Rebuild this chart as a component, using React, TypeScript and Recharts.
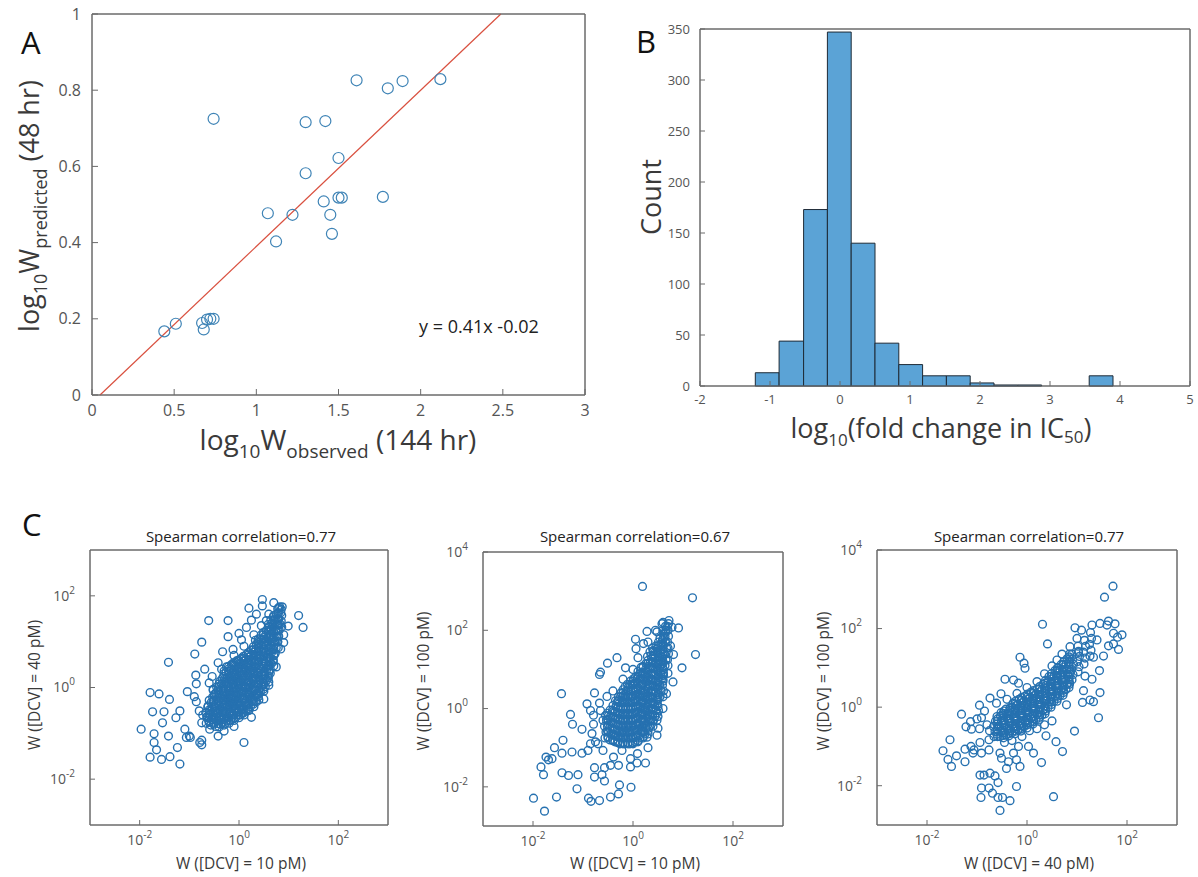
import React from 'react';
import { ScatterChart, Scatter, ComposedChart, XAxis, YAxis, ReferenceLine, ReferenceArea } from 'recharts';

// ---- panel A: observed vs predicted (log10 W) ----
const aObserved = [0.44, 0.51, 0.67, 0.68, 0.70, 0.72, 0.74, 0.74, 1.07, 1.12, 1.22, 1.30, 1.30, 1.42, 1.41, 1.45, 1.46, 1.50, 1.50, 1.52, 1.61, 1.77, 1.80, 1.89, 2.12];
const aPredicted = [0.167, 0.187, 0.189, 0.172, 0.198, 0.200, 0.200, 0.725, 0.477, 0.403, 0.473, 0.582, 0.716, 0.719, 0.508, 0.473, 0.423, 0.622, 0.518, 0.518, 0.826, 0.520, 0.805, 0.824, 0.829];
const fitSlope = 0.41;
const fitIntercept = -0.02;
const aXTicks = [0, 0.5, 1, 1.5, 2, 2.5, 3];
const aYTicks = [0, 0.2, 0.4, 0.6, 0.8, 1];

// ---- panel B: histogram of log10 fold change ----
const binEdges = [-1.21, -0.87, -0.52, -0.18, 0.16, 0.50, 0.84, 1.18, 1.52, 1.86, 2.20, 2.54, 2.88, 3.22, 3.56, 3.90];
const binCounts = [13, 44, 173, 347, 140, 42, 21, 10, 10, 3, 1, 1, 0, 0, 10];
const bXTicks = [-2, -1, 0, 1, 2, 3, 4, 5];
const bYTicks = [0, 50, 100, 150, 200, 250, 300, 350];

// ---- panel C: log10 W pairs ----
const c1Points: [number, number][] = [
  [-1.97, -0.91], [-1.79, -0.11], [-1.61, -0.14], [-1.40, -0.26], [-1.74, -0.53], [-1.51, -0.53], [-1.19, -0.51], [-1.27, -0.66],
  [-1.54, -0.77], [-1.71, -1.01], [-1.42, -1.06], [-1.71, -1.20], [-1.66, -1.36], [-1.79, -1.52], [-1.56, -1.57], [-1.39, -1.51],
  [-1.24, -1.31], [-1.19, -1.67], [-1.42, 0.55], [-1.09, -0.91], [-1.06, -1.09], [-0.98, -1.09], [-0.89, 0.73], [-0.75, 0.99],
  [-0.61, 1.46], [-0.22, 1.46], [-0.22, 1.11], [-1.04, -0.09], [-0.87, 0.27], [-0.86, 0.08], [-0.69, 0.40], [-0.54, 0.24],
  [-0.42, 0.54], [-0.86, -0.31], [-0.80, -0.51], [-0.75, -0.77], [-0.75, -1.15], [-0.75, -1.25], [-0.73, -0.60], [-0.65, -0.64],
  [-0.42, -1.06], [-0.59, -0.91], [-1.00, -1.06], [-0.79, -1.20], [0.10, -1.20], [0.63, 0.31], [0.20, 1.73], [0.47, 1.92],
  [0.47, 1.78], [0.70, 1.85], [0.87, 1.76], [1.20, 1.57], [1.29, 1.31], [0.99, 1.34], [0.90, 0.98], [0.84, 0.84],
  [0.00, 1.18], [0.15, 1.31], [0.35, 1.60], [0.55, 1.46], [0.25, 1.47], [0.05, 1.04], [-0.33, 0.78], [-0.12, 0.83],
  [-0.52, -0.04], [-0.19, -0.38], [0.08, -0.56], [0.18, -0.49], [0.35, -0.13], [0.35, -0.31],
  [-0.90, -0.20], [-0.30, -0.95], [-0.10, -0.85], [0.25, -0.65], [0.50, -0.25], [0.60, 0.05], [0.75, 0.45], [0.90, 1.15],
  [-0.60, 0.10], [-0.35, 0.40], [-0.10, 0.70], [0.10, 0.90], [0.30, 1.15], [0.45, 1.35], [0.60, 1.60],
];
const c1Core: [number, number][] = [
  [-0.66, -0.78], [-0.64, -0.66], [-0.67, -0.55], [-0.63, -0.43],
  [-0.57, -0.82], [-0.55, -0.70], [-0.58, -0.58], [-0.54, -0.46], [-0.56, -0.33], [-0.53, -0.21],
  [-0.47, -0.85], [-0.45, -0.73], [-0.48, -0.61], [-0.44, -0.49], [-0.46, -0.36], [-0.43, -0.24], [-0.47, -0.12], [-0.45, 0.01],
  [-0.37, -0.80], [-0.35, -0.68], [-0.38, -0.55], [-0.34, -0.43], [-0.36, -0.31], [-0.33, -0.18], [-0.37, -0.06], [-0.35, 0.07], [-0.34, 0.19],
  [-0.27, -0.78], [-0.25, -0.66], [-0.28, -0.53], [-0.24, -0.41], [-0.26, -0.28], [-0.23, -0.16], [-0.27, -0.03], [-0.25, 0.09], [-0.24, 0.22], [-0.26, 0.34], [-0.25, 0.45],
  [-0.17, -0.72], [-0.15, -0.60], [-0.18, -0.47], [-0.14, -0.35], [-0.16, -0.22], [-0.13, -0.10], [-0.17, 0.03], [-0.15, 0.15], [-0.14, 0.28], [-0.16, 0.40], [-0.15, 0.50],
  [-0.07, -0.66], [-0.05, -0.54], [-0.08, -0.41], [-0.04, -0.29], [-0.06, -0.16], [-0.03, -0.04], [-0.07, 0.09], [-0.05, 0.21], [-0.04, 0.34], [-0.06, 0.46], [-0.05, 0.58],
  [0.03, -0.60], [0.05, -0.48], [0.02, -0.35], [0.06, -0.23], [0.04, -0.10], [0.07, 0.02], [0.03, 0.15], [0.05, 0.27], [0.06, 0.40], [0.04, 0.52], [0.05, 0.64],
  [0.13, -0.50], [0.15, -0.38], [0.12, -0.25], [0.16, -0.13], [0.14, 0.00], [0.17, 0.12], [0.13, 0.25], [0.15, 0.37], [0.16, 0.49], [0.14, 0.61], [0.15, 0.72],
  [0.23, -0.42], [0.25, -0.30], [0.22, -0.17], [0.26, -0.05], [0.24, 0.08], [0.27, 0.20], [0.23, 0.33], [0.25, 0.45], [0.26, 0.58], [0.24, 0.70], [0.25, 0.82],
  [0.33, -0.30], [0.35, -0.17], [0.32, -0.05], [0.36, 0.08], [0.34, 0.20], [0.37, 0.33], [0.33, 0.45], [0.35, 0.58], [0.36, 0.70], [0.34, 0.83], [0.35, 0.95], [0.33, 1.03],
  [0.43, -0.10], [0.45, 0.03], [0.42, 0.15], [0.46, 0.28], [0.44, 0.40], [0.47, 0.53], [0.43, 0.65], [0.45, 0.78], [0.46, 0.90], [0.44, 1.03], [0.45, 1.15],
  [0.53, 0.02], [0.55, 0.15], [0.52, 0.27], [0.56, 0.40], [0.54, 0.52], [0.57, 0.65], [0.53, 0.77], [0.55, 0.90], [0.56, 1.02], [0.54, 1.15], [0.55, 1.25],
  [0.63, 0.40], [0.65, 0.52], [0.62, 0.65], [0.66, 0.77], [0.64, 0.90], [0.67, 1.02], [0.63, 1.15], [0.65, 1.27], [0.66, 1.40], [0.64, 1.47],
  [0.73, 0.75], [0.75, 0.87], [0.72, 1.00], [0.76, 1.12], [0.74, 1.25], [0.77, 1.37], [0.73, 1.50], [0.75, 1.60],
  [0.81, 1.25], [0.83, 1.38], [0.80, 1.50], [0.84, 1.63], [0.82, 1.76],
  [-0.60, -0.76], [-0.61, -0.64], [-0.59, -0.52], [-0.62, -0.40], [-0.60, -0.28],
  [-0.51, -0.80], [-0.50, -0.67], [-0.52, -0.55], [-0.49, -0.42], [-0.51, -0.30], [-0.50, -0.18], [-0.52, -0.06],
  [-0.41, -0.79], [-0.40, -0.67], [-0.42, -0.55], [-0.39, -0.42], [-0.41, -0.30], [-0.40, -0.17], [-0.42, -0.05], [-0.40, 0.08],
  [-0.31, -0.76], [-0.30, -0.64], [-0.32, -0.51], [-0.29, -0.39], [-0.31, -0.26], [-0.30, -0.14], [-0.32, -0.01], [-0.29, 0.11], [-0.31, 0.24], [-0.30, 0.36],
  [-0.21, -0.72], [-0.20, -0.59], [-0.22, -0.47], [-0.19, -0.34], [-0.21, -0.22], [-0.20, -0.09], [-0.22, 0.03], [-0.19, 0.16], [-0.21, 0.28], [-0.20, 0.41],
  [-0.11, -0.66], [-0.10, -0.53], [-0.12, -0.41], [-0.09, -0.28], [-0.11, -0.16], [-0.10, -0.03], [-0.12, 0.09], [-0.09, 0.22], [-0.11, 0.34], [-0.10, 0.47], [-0.11, 0.54],
  [-0.01, -0.60], [0.00, -0.48], [-0.02, -0.35], [0.01, -0.23], [-0.01, -0.10], [0.00, 0.02], [-0.02, 0.15], [0.01, 0.27], [-0.01, 0.40], [0.00, 0.52], [-0.01, 0.60],
  [0.09, -0.54], [0.10, -0.42], [0.08, -0.29], [0.11, -0.17], [0.09, -0.04], [0.10, 0.08], [0.08, 0.21], [0.11, 0.33], [0.09, 0.46], [0.10, 0.58], [0.09, 0.68],
  [0.19, -0.46], [0.20, -0.34], [0.18, -0.21], [0.21, -0.09], [0.19, 0.04], [0.20, 0.16], [0.18, 0.29], [0.21, 0.41], [0.19, 0.54], [0.20, 0.66], [0.19, 0.76],
  [0.29, -0.36], [0.30, -0.23], [0.28, -0.11], [0.31, 0.02], [0.29, 0.14], [0.30, 0.27], [0.28, 0.39], [0.31, 0.52], [0.29, 0.64], [0.30, 0.77], [0.29, 0.89],
  [0.39, -0.20], [0.40, -0.07], [0.38, 0.05], [0.41, 0.18], [0.39, 0.30], [0.40, 0.43], [0.38, 0.55], [0.41, 0.68], [0.39, 0.80], [0.40, 0.93], [0.39, 1.06],
  [0.49, -0.04], [0.50, 0.09], [0.48, 0.21], [0.51, 0.34], [0.49, 0.46], [0.50, 0.59], [0.48, 0.71], [0.51, 0.84], [0.49, 0.96], [0.50, 1.09], [0.49, 1.20],
  [0.59, 0.21], [0.60, 0.33], [0.58, 0.46], [0.61, 0.58], [0.59, 0.71], [0.60, 0.83], [0.58, 0.96], [0.61, 1.08], [0.59, 1.21], [0.60, 1.33],
  [0.69, 0.57], [0.70, 0.69], [0.68, 0.82], [0.71, 0.94], [0.69, 1.07], [0.70, 1.19], [0.68, 1.32], [0.71, 1.44], [0.69, 1.54],
  [0.78, 1.00], [0.79, 1.12], [0.77, 1.25], [0.80, 1.37], [0.78, 1.50], [0.79, 1.62], [0.78, 1.72],
  [-0.61, -0.72], [-0.59, -0.60], [-0.60, -0.49],
  [-0.50, -0.76], [-0.51, -0.64], [-0.49, -0.52], [-0.50, -0.40], [-0.51, -0.27], [-0.49, -0.15],
  [-0.40, -0.86], [-0.41, -0.73], [-0.39, -0.61], [-0.40, -0.48], [-0.41, -0.36], [-0.39, -0.23], [-0.40, -0.11], [-0.41, 0.02], [-0.39, 0.13],
  [-0.30, -0.82], [-0.31, -0.70], [-0.29, -0.57], [-0.30, -0.45], [-0.31, -0.32], [-0.29, -0.20], [-0.30, -0.07], [-0.31, 0.05], [-0.29, 0.18], [-0.30, 0.30],
  [-0.20, -0.78], [-0.21, -0.66], [-0.19, -0.53], [-0.20, -0.41], [-0.21, -0.28], [-0.19, -0.15], [-0.20, -0.03], [-0.21, 0.10], [-0.19, 0.22], [-0.20, 0.35], [-0.21, 0.46],
  [-0.10, -0.72], [-0.11, -0.60], [-0.09, -0.47], [-0.10, -0.35], [-0.11, -0.22], [-0.09, -0.10], [-0.10, 0.03], [-0.11, 0.15], [-0.09, 0.28], [-0.10, 0.40], [-0.11, 0.50],
  [0.00, -0.66], [-0.01, -0.54], [0.01, -0.41], [0.00, -0.29], [-0.01, -0.16], [0.01, -0.04], [0.00, 0.09], [-0.01, 0.21], [0.01, 0.34], [0.00, 0.46], [-0.01, 0.57],
  [0.10, -0.60], [0.09, -0.48], [0.11, -0.35], [0.10, -0.23], [0.09, -0.10], [0.11, 0.02], [0.10, 0.15], [0.09, 0.27], [0.11, 0.40], [0.10, 0.52], [0.09, 0.63],
  [0.20, -0.50], [0.19, -0.38], [0.21, -0.25], [0.20, -0.13], [0.19, 0.00], [0.21, 0.12], [0.20, 0.25], [0.19, 0.37], [0.21, 0.49], [0.20, 0.61], [0.19, 0.71],
  [0.30, -0.42], [0.29, -0.30], [0.31, -0.17], [0.30, -0.05], [0.29, 0.08], [0.31, 0.20], [0.30, 0.33], [0.29, 0.45], [0.31, 0.58], [0.30, 0.70], [0.29, 0.82],
  [0.40, -0.27], [0.39, -0.14], [0.41, -0.02], [0.40, 0.11], [0.39, 0.23], [0.41, 0.36], [0.40, 0.48], [0.39, 0.61], [0.41, 0.73], [0.40, 0.86], [0.39, 0.98],
  [0.50, -0.08], [0.49, 0.05], [0.51, 0.17], [0.50, 0.30], [0.49, 0.42], [0.51, 0.55], [0.50, 0.67], [0.49, 0.80], [0.51, 0.92], [0.50, 1.05], [0.49, 1.15],
  [0.60, 0.12], [0.59, 0.25], [0.61, 0.37], [0.60, 0.50], [0.59, 0.62], [0.61, 0.75], [0.60, 0.87], [0.59, 1.00], [0.61, 1.12], [0.60, 1.25], [0.59, 1.38],
  [0.70, 0.47], [0.69, 0.60], [0.71, 0.72], [0.70, 0.85], [0.69, 0.97], [0.71, 1.10], [0.70, 1.22], [0.69, 1.35], [0.71, 1.47], [0.70, 1.57],
  [0.79, 0.87], [0.78, 1.00], [0.80, 1.12], [0.79, 1.25], [0.78, 1.37], [0.80, 1.50], [0.79, 1.62], [0.80, 1.74],
  [0.86, 1.32], [0.85, 1.45], [0.86, 1.57], [0.85, 1.70],
];

const c2Points: [number, number][] = [
  [0.19, 3.12], [1.19, 2.83], [1.25, 1.38], [0.98, 1.04], [0.80, 0.68], [-1.43, 0.38], [-1.25, -0.15], [-1.21, -0.40],
  [-1.02, -0.53], [-1.40, -0.81], [-1.57, -1.00], [-1.74, -1.24], [-1.84, -1.49], [-1.79, -1.69], [-1.69, -1.31], [-1.62, -1.28],
  [-1.42, -1.14], [-1.22, -1.11], [-1.02, -1.14], [-1.42, -1.64], [-1.29, -1.71], [-1.10, -1.69], [-1.12, -2.05], [-1.99, -2.29],
  [-1.77, -2.62], [-1.53, -2.26], [-0.89, -2.29], [-0.84, -2.37], [-0.67, -2.35], [-0.45, -2.26], [-0.29, -2.18], [-0.27, -1.95],
  [-0.04, -2.01], [-0.77, -1.75], [-0.62, -1.69], [-0.57, -1.85], [-0.57, -1.51], [-0.77, -1.51], [-0.45, -1.45], [-0.29, -1.45],
  [-0.05, -1.49], [0.08, -1.39], [0.25, -1.39], [0.09, -1.15], [-0.05, -1.28], [-0.39, -1.24], [-0.22, -1.07], [-0.60, -1.07],
  [-0.90, -1.07], [-0.85, -0.90], [-0.82, -0.64], [-0.75, -0.85], [-0.79, -0.40], [-0.79, -0.17], [-0.92, 0.12], [-0.85, -0.05],
  [-0.77, 0.40], [-0.67, 0.14], [-0.65, -0.05], [-0.52, 0.31], [-0.51, 1.16], [-0.32, 1.30], [-0.67, 0.87], [-0.65, 0.93],
  [-0.15, 1.04], [0.05, 1.77], [0.06, 1.53], [0.21, 1.66], [0.28, 1.97], [0.48, 1.96], [0.58, 2.17], [0.78, 2.08],
  [0.71, 2.17], [0.91, 2.06], [0.81, 1.38], [0.61, 0.85], [0.67, 0.38], [0.48, -0.11], [0.48, -0.30], [0.28, -0.73],
  [0.48, -0.68], [0.18, -0.47],
  [-0.70, -0.90], [-0.60, -0.30], [0.30, -1.00], [0.50, -0.50], [0.60, 0.00], [0.70, 0.90], [0.75, 1.60], [-0.40, 0.45],
  [-0.20, 0.75], [0.00, 1.00], [0.10, 1.30], [0.30, 1.70], [0.45, 2.00], [0.60, 2.20], [0.72, 2.25], [0.65, 1.95],
];
const c2Core: [number, number][] = [
  [-0.56, -0.75], [-0.54, -0.60], [-0.57, -0.45], [-0.53, -0.30], [-0.55, -0.18],
  [-0.46, -0.80], [-0.44, -0.65], [-0.47, -0.50], [-0.43, -0.35], [-0.45, -0.20], [-0.46, -0.04],
  [-0.36, -0.85], [-0.34, -0.70], [-0.37, -0.55], [-0.33, -0.40], [-0.35, -0.25], [-0.36, -0.10], [-0.34, 0.05], [-0.35, 0.20],
  [-0.26, -0.90], [-0.24, -0.75], [-0.27, -0.60], [-0.23, -0.45], [-0.25, -0.30], [-0.26, -0.15], [-0.24, 0.00], [-0.27, 0.15], [-0.25, 0.30], [-0.24, 0.40],
  [-0.16, -0.90], [-0.14, -0.75], [-0.17, -0.60], [-0.13, -0.45], [-0.15, -0.30], [-0.16, -0.15], [-0.14, 0.00], [-0.17, 0.15], [-0.15, 0.30], [-0.14, 0.45], [-0.16, 0.55],
  [-0.06, -0.90], [-0.04, -0.75], [-0.07, -0.60], [-0.03, -0.45], [-0.05, -0.30], [-0.06, -0.15], [-0.04, 0.00], [-0.07, 0.15], [-0.05, 0.30], [-0.04, 0.45], [-0.06, 0.60], [-0.05, 0.70],
  [0.04, -0.85], [0.06, -0.70], [0.03, -0.55], [0.07, -0.40], [0.05, -0.25], [0.04, -0.10], [0.06, 0.05], [0.03, 0.20], [0.05, 0.35], [0.06, 0.50], [0.04, 0.65], [0.05, 0.80],
  [0.14, -0.75], [0.16, -0.60], [0.13, -0.45], [0.17, -0.30], [0.15, -0.15], [0.14, 0.00], [0.16, 0.15], [0.13, 0.30], [0.15, 0.45], [0.16, 0.60], [0.14, 0.75], [0.15, 0.90], [0.16, 1.05],
  [0.24, -0.65], [0.26, -0.50], [0.23, -0.35], [0.27, -0.20], [0.25, -0.05], [0.24, 0.10], [0.26, 0.25], [0.23, 0.40], [0.25, 0.55], [0.26, 0.70], [0.24, 0.85], [0.25, 1.00], [0.26, 1.15],
  [0.34, -0.45], [0.36, -0.30], [0.33, -0.15], [0.37, 0.00], [0.35, 0.15], [0.34, 0.30], [0.36, 0.45], [0.33, 0.60], [0.35, 0.75], [0.36, 0.90], [0.34, 1.05], [0.35, 1.20], [0.36, 1.35], [0.34, 1.45],
  [0.44, -0.20], [0.46, -0.05], [0.43, 0.10], [0.47, 0.25], [0.45, 0.40], [0.44, 0.55], [0.46, 0.70], [0.43, 0.85], [0.45, 1.00], [0.46, 1.15], [0.44, 1.30], [0.45, 1.45], [0.46, 1.60],
  [0.54, 0.30], [0.56, 0.45], [0.53, 0.60], [0.57, 0.75], [0.55, 0.90], [0.54, 1.05], [0.56, 1.20], [0.53, 1.35], [0.55, 1.50], [0.56, 1.65], [0.54, 1.80],
  [0.64, 1.10], [0.66, 1.25], [0.63, 1.40], [0.67, 1.55], [0.65, 1.70], [0.64, 1.85], [0.66, 2.00], [0.65, 2.10],
  [-0.50, -0.72], [-0.51, -0.57], [-0.49, -0.42], [-0.50, -0.27], [-0.51, -0.12],
  [-0.40, -0.82], [-0.41, -0.67], [-0.39, -0.52], [-0.40, -0.37], [-0.41, -0.22], [-0.39, -0.07], [-0.40, 0.08],
  [-0.30, -0.87], [-0.31, -0.72], [-0.29, -0.57], [-0.30, -0.42], [-0.31, -0.27], [-0.29, -0.12], [-0.30, 0.03], [-0.31, 0.18], [-0.29, 0.30],
  [-0.20, -0.87], [-0.21, -0.72], [-0.19, -0.57], [-0.20, -0.42], [-0.21, -0.27], [-0.19, -0.12], [-0.20, 0.03], [-0.21, 0.18], [-0.19, 0.33], [-0.20, 0.48],
  [-0.10, -0.87], [-0.11, -0.72], [-0.09, -0.57], [-0.10, -0.42], [-0.11, -0.27], [-0.09, -0.12], [-0.10, 0.03], [-0.11, 0.18], [-0.09, 0.33], [-0.10, 0.48], [-0.11, 0.62],
  [0.00, -0.87], [-0.01, -0.72], [0.01, -0.57], [0.00, -0.42], [-0.01, -0.27], [0.01, -0.12], [0.00, 0.03], [-0.01, 0.18], [0.01, 0.33], [0.00, 0.48], [-0.01, 0.63], [0.01, 0.76],
  [0.10, -0.82], [0.09, -0.67], [0.11, -0.52], [0.10, -0.37], [0.09, -0.22], [0.11, -0.07], [0.10, 0.08], [0.09, 0.23], [0.11, 0.38], [0.10, 0.53], [0.09, 0.68], [0.11, 0.83], [0.10, 0.95],
  [0.20, -0.72], [0.19, -0.57], [0.21, -0.42], [0.20, -0.27], [0.19, -0.12], [0.21, 0.03], [0.20, 0.18], [0.19, 0.33], [0.21, 0.48], [0.20, 0.63], [0.19, 0.78], [0.21, 0.93], [0.20, 1.08],
  [0.30, -0.57], [0.29, -0.42], [0.31, -0.27], [0.30, -0.12], [0.29, 0.03], [0.31, 0.18], [0.30, 0.33], [0.29, 0.48], [0.31, 0.63], [0.30, 0.78], [0.29, 0.93], [0.31, 1.08], [0.30, 1.23], [0.29, 1.33],
  [0.40, -0.32], [0.39, -0.17], [0.41, -0.02], [0.40, 0.13], [0.39, 0.28], [0.41, 0.43], [0.40, 0.58], [0.39, 0.73], [0.41, 0.88], [0.40, 1.03], [0.39, 1.18], [0.41, 1.33], [0.40, 1.48], [0.39, 1.55],
  [0.50, 0.05], [0.49, 0.20], [0.51, 0.35], [0.50, 0.50], [0.49, 0.65], [0.51, 0.80], [0.50, 0.95], [0.49, 1.10], [0.51, 1.25], [0.50, 1.40], [0.49, 1.55], [0.51, 1.70],
  [0.60, 0.70], [0.59, 0.85], [0.61, 1.00], [0.60, 1.15], [0.59, 1.30], [0.61, 1.45], [0.60, 1.60], [0.59, 1.75], [0.61, 1.90], [0.60, 2.00],
  [-0.50, -0.75], [-0.49, -0.60], [-0.51, -0.45], [-0.50, -0.30], [-0.49, -0.18],
  [-0.40, -0.80], [-0.39, -0.65], [-0.41, -0.50], [-0.40, -0.35], [-0.39, -0.20], [-0.41, -0.04],
  [-0.30, -0.85], [-0.29, -0.70], [-0.31, -0.55], [-0.30, -0.40], [-0.29, -0.25], [-0.31, -0.10], [-0.30, 0.05], [-0.29, 0.20],
  [-0.20, -0.90], [-0.19, -0.75], [-0.21, -0.60], [-0.20, -0.45], [-0.19, -0.30], [-0.21, -0.15], [-0.20, 0.00], [-0.19, 0.15], [-0.21, 0.30], [-0.20, 0.40],
  [-0.10, -0.90], [-0.09, -0.75], [-0.11, -0.60], [-0.10, -0.45], [-0.09, -0.30], [-0.11, -0.15], [-0.10, 0.00], [-0.09, 0.15], [-0.11, 0.30], [-0.10, 0.45], [-0.09, 0.55],
  [0.00, -0.90], [0.01, -0.75], [-0.01, -0.60], [0.00, -0.45], [0.01, -0.30], [-0.01, -0.15], [0.00, 0.00], [0.01, 0.15], [-0.01, 0.30], [0.00, 0.45], [0.01, 0.60], [0.00, 0.70],
  [0.10, -0.85], [0.11, -0.70], [0.09, -0.55], [0.10, -0.40], [0.11, -0.25], [0.09, -0.10], [0.10, 0.05], [0.11, 0.20], [0.09, 0.35], [0.10, 0.50], [0.11, 0.65], [0.09, 0.80],
  [0.20, -0.75], [0.21, -0.60], [0.19, -0.45], [0.20, -0.30], [0.21, -0.15], [0.19, 0.00], [0.20, 0.15], [0.21, 0.30], [0.19, 0.45], [0.20, 0.60], [0.21, 0.75], [0.19, 0.90], [0.20, 1.05],
  [0.30, -0.65], [0.31, -0.50], [0.29, -0.35], [0.30, -0.20], [0.31, -0.05], [0.29, 0.10], [0.30, 0.25], [0.31, 0.40], [0.29, 0.55], [0.30, 0.70], [0.31, 0.85], [0.29, 1.00], [0.30, 1.15],
  [0.40, -0.45], [0.41, -0.30], [0.39, -0.15], [0.40, 0.00], [0.41, 0.15], [0.39, 0.30], [0.40, 0.45], [0.41, 0.60], [0.39, 0.75], [0.40, 0.90], [0.41, 1.05], [0.39, 1.20], [0.40, 1.35], [0.41, 1.45],
  [0.50, -0.20], [0.51, -0.05], [0.49, 0.10], [0.50, 0.25], [0.51, 0.40], [0.49, 0.55], [0.50, 0.70], [0.51, 0.85], [0.49, 1.00], [0.50, 1.15], [0.51, 1.30], [0.49, 1.45], [0.50, 1.60],
  [0.60, 0.30], [0.61, 0.45], [0.59, 0.60], [0.60, 0.75], [0.61, 0.90], [0.59, 1.05], [0.60, 1.20], [0.61, 1.35], [0.59, 1.50], [0.60, 1.65], [0.61, 1.80],
  [0.70, 1.10], [0.69, 1.25], [0.71, 1.40], [0.70, 1.55], [0.69, 1.70], [0.71, 1.85], [0.70, 2.00], [0.69, 2.10],
];

const c3Points: [number, number][] = [
  [1.72, 3.08], [1.55, 2.80], [0.31, 2.11], [0.41, 1.61], [-0.14, 1.27], [-0.06, 1.12], [-0.04, 0.99], [-0.44, 0.71],
  [-0.27, 0.69], [-0.17, 0.61], [-0.74, 0.23], [-0.52, 0.34], [-0.61, 0.10], [-1.31, -0.18], [-1.13, -0.37], [-1.22, -0.50],
  [-0.91, -0.27], [-1.11, -0.56], [-1.54, -0.83], [-1.68, -1.11], [-1.58, -1.33], [-1.51, -1.51], [-1.41, -1.24], [-1.24, -1.39],
  [-1.24, -1.07], [-1.12, -1.00], [-1.06, -1.09], [-1.08, -1.17], [-0.94, -0.90], [-0.91, -1.17], [-0.76, -1.09], [-0.76, -0.83],
  [-0.94, -1.73], [-0.86, -1.73], [-0.74, -1.68], [-0.64, -1.75], [-0.58, -1.92], [-0.91, -2.06], [-0.76, -2.06], [-0.69, -2.19],
  [-0.92, -2.30], [-0.58, -2.30], [-0.49, -2.30], [-0.54, -2.63], [-0.34, -2.38], [-0.21, -2.02], [0.53, -2.28], [0.29, -1.41],
  [-0.14, -1.51], [-0.21, -1.34], [-0.41, -1.56], [-0.37, -1.39], [-0.54, -1.17], [-0.51, -1.30], [-0.27, -1.17], [-0.17, -1.00],
  [0.03, -1.00], [0.13, -1.17], [0.38, -0.73], [0.58, -0.88], [0.71, -1.13], [0.95, -0.61], [1.43, -0.27], [1.33, 0.14],
  [1.46, 0.37], [1.11, 0.12], [1.26, 0.18], [0.79, 0.06], [1.13, 0.42], [1.45, 0.93], [1.30, 0.71], [1.16, 0.79],
  [1.33, 1.27], [1.53, 1.30], [1.63, 1.56], [1.40, 1.71], [1.73, 1.61], [1.83, 1.47], [1.81, 1.78], [1.90, 1.84],
  [1.73, 1.88], [1.60, 2.09], [1.76, 2.12], [1.63, 2.19], [1.46, 2.13], [1.30, 2.09], [1.09, 1.96], [0.96, 2.02],
  [1.00, 1.75], [0.86, 1.54], [1.03, 1.39],
  [-0.85, -0.10], [-0.95, 0.05], [-0.80, -0.45], [-0.75, -0.60], [-0.95, -0.55], [-1.00, -0.30], [0.05, -0.60], [0.20, -0.55],
  [0.35, -0.45], [0.50, -0.35], [-0.10, -0.75], [-0.30, -0.85], [-0.45, -0.90], [-0.40, 0.20], [-0.20, 0.35], [0.00, 0.50],
  [0.20, 0.65], [0.35, 0.85], [0.50, 1.05], [0.60, 1.20], [0.70, 1.35],
];
const c3Core: [number, number][] = [
  [-0.66, -0.75], [-0.64, -0.62], [-0.67, -0.49], [-0.63, -0.36],
  [-0.54, -0.75], [-0.52, -0.62], [-0.55, -0.49], [-0.51, -0.36], [-0.53, -0.23], [-0.52, -0.14],
  [-0.42, -0.70], [-0.40, -0.57], [-0.43, -0.44], [-0.39, -0.31], [-0.41, -0.18], [-0.42, -0.05],
  [-0.30, -0.65], [-0.28, -0.52], [-0.31, -0.39], [-0.27, -0.26], [-0.29, -0.13], [-0.30, 0.00], [-0.28, 0.10],
  [-0.18, -0.58], [-0.16, -0.45], [-0.19, -0.32], [-0.15, -0.19], [-0.17, -0.06], [-0.18, 0.07], [-0.16, 0.20],
  [-0.06, -0.50], [-0.04, -0.37], [-0.07, -0.24], [-0.03, -0.11], [-0.05, 0.02], [-0.06, 0.15], [-0.04, 0.28],
  [0.06, -0.40], [0.08, -0.27], [0.05, -0.14], [0.09, -0.01], [0.07, 0.12], [0.06, 0.25], [0.08, 0.38],
  [0.18, -0.32], [0.20, -0.19], [0.17, -0.06], [0.21, 0.07], [0.19, 0.20], [0.18, 0.33], [0.20, 0.46],
  [0.30, -0.20], [0.32, -0.07], [0.29, 0.06], [0.33, 0.19], [0.31, 0.32], [0.30, 0.45], [0.32, 0.58],
  [0.42, 0.00], [0.44, 0.13], [0.41, 0.26], [0.45, 0.39], [0.43, 0.52], [0.42, 0.65], [0.44, 0.78],
  [0.54, 0.15], [0.56, 0.28], [0.53, 0.41], [0.57, 0.54], [0.55, 0.67], [0.54, 0.80], [0.56, 0.93],
  [0.66, 0.30], [0.68, 0.43], [0.65, 0.56], [0.69, 0.69], [0.67, 0.82], [0.66, 0.95], [0.68, 1.08],
  [0.78, 0.45], [0.80, 0.58], [0.77, 0.71], [0.81, 0.84], [0.79, 0.97], [0.78, 1.10], [0.80, 1.23],
  [0.90, 0.70], [0.92, 0.83], [0.89, 0.96], [0.93, 1.09], [0.91, 1.22], [0.90, 1.35],
  [1.02, 0.90], [1.04, 1.03], [1.01, 1.16], [1.05, 1.29], [1.03, 1.42], [1.02, 1.55],
  [1.14, 1.10], [1.16, 1.25], [1.13, 1.40], [1.17, 1.55], [1.15, 1.70],
  [1.26, 1.30], [1.28, 1.45], [1.25, 1.60], [1.29, 1.75], [1.27, 1.90],
  [-0.59, -0.75], [-0.60, -0.62], [-0.58, -0.49], [-0.59, -0.36], [-0.60, -0.24],
  [-0.47, -0.72], [-0.48, -0.59], [-0.46, -0.46], [-0.47, -0.33], [-0.48, -0.20], [-0.46, -0.10],
  [-0.35, -0.67], [-0.36, -0.54], [-0.34, -0.41], [-0.35, -0.28], [-0.36, -0.15], [-0.34, -0.02],
  [-0.23, -0.61], [-0.24, -0.48], [-0.22, -0.35], [-0.23, -0.22], [-0.24, -0.09], [-0.22, 0.04], [-0.23, 0.15],
  [-0.11, -0.54], [-0.12, -0.41], [-0.10, -0.28], [-0.11, -0.15], [-0.12, -0.02], [-0.10, 0.11], [-0.11, 0.24],
  [0.01, -0.45], [0.00, -0.32], [0.02, -0.19], [0.01, -0.06], [0.00, 0.07], [0.02, 0.20], [0.01, 0.33],
  [0.13, -0.36], [0.12, -0.23], [0.14, -0.10], [0.13, 0.03], [0.12, 0.16], [0.14, 0.29], [0.13, 0.42],
  [0.25, -0.26], [0.24, -0.13], [0.26, 0.00], [0.25, 0.13], [0.24, 0.26], [0.26, 0.39], [0.25, 0.52],
  [0.37, -0.10], [0.36, 0.03], [0.38, 0.16], [0.37, 0.29], [0.36, 0.42], [0.38, 0.55], [0.37, 0.68],
  [0.49, 0.07], [0.48, 0.20], [0.50, 0.33], [0.49, 0.46], [0.48, 0.59], [0.50, 0.72], [0.49, 0.85],
  [0.61, 0.22], [0.60, 0.35], [0.62, 0.48], [0.61, 0.61], [0.60, 0.74], [0.62, 0.87], [0.61, 1.00],
  [0.73, 0.37], [0.72, 0.50], [0.74, 0.63], [0.73, 0.76], [0.72, 0.89], [0.74, 1.02], [0.73, 1.15],
  [0.85, 0.58], [0.84, 0.71], [0.86, 0.84], [0.85, 0.97], [0.84, 1.10], [0.86, 1.23], [0.85, 1.35],
  [-0.60, -0.69], [-0.59, -0.56], [-0.60, -0.43], [-0.59, -0.30],
  [-0.47, -0.78], [-0.48, -0.66], [-0.47, -0.53], [-0.48, -0.40], [-0.47, -0.27], [-0.48, -0.16],
  [-0.36, -0.73], [-0.35, -0.61], [-0.36, -0.48], [-0.35, -0.35], [-0.36, -0.22], [-0.35, -0.09],
  [-0.24, -0.68], [-0.23, -0.55], [-0.24, -0.42], [-0.23, -0.29], [-0.24, -0.16], [-0.23, -0.03], [-0.24, 0.08],
  [-0.12, -0.61], [-0.11, -0.48], [-0.12, -0.35], [-0.11, -0.22], [-0.12, -0.09], [-0.11, 0.04], [-0.12, 0.17],
  [0.00, -0.53], [0.01, -0.40], [0.00, -0.27], [0.01, -0.14], [0.00, -0.01], [0.01, 0.12], [0.00, 0.25],
  [0.12, -0.43], [0.13, -0.30], [0.12, -0.17], [0.13, -0.04], [0.12, 0.09], [0.13, 0.22], [0.12, 0.35],
  [0.24, -0.33], [0.25, -0.20], [0.24, -0.07], [0.25, 0.06], [0.24, 0.19], [0.25, 0.32], [0.24, 0.45],
  [0.36, -0.17], [0.37, -0.04], [0.36, 0.09], [0.37, 0.22], [0.36, 0.35], [0.37, 0.48], [0.36, 0.61],
  [0.48, 0.00], [0.49, 0.13], [0.48, 0.26], [0.49, 0.39], [0.48, 0.52], [0.49, 0.65], [0.48, 0.78],
  [0.60, 0.15], [0.61, 0.28], [0.60, 0.41], [0.61, 0.54], [0.60, 0.67], [0.61, 0.80], [0.60, 0.93],
  [0.72, 0.30], [0.73, 0.43], [0.72, 0.56], [0.73, 0.69], [0.72, 0.82], [0.73, 0.95], [0.72, 1.08],
  [0.84, 0.50], [0.85, 0.63], [0.84, 0.76], [0.85, 0.89], [0.84, 1.02], [0.85, 1.15], [0.84, 1.28],
];

const cXTicks = [-2, 0, 2];
const c1YTicks = [-2, 0, 2];
const c23YTicks = [-2, 0, 2, 4];
const cTitles = ['Spearman correlation=0.77', 'Spearman correlation=0.67', 'Spearman correlation=0.77'];
const cXLabels = ['W ([DCV] = 10 pM)', 'W ([DCV] = 10 pM)', 'W ([DCV] = 40 pM)'];
const cYLabels = ['W ([DCV] = 40 pM)', 'W ([DCV] = 100 pM)', 'W ([DCV] = 100 pM)'];

const FONT = '"Open Sans", "Noto Sans", sans-serif';
const AXIS = '#6b6b6b';
const TICK_TXT = '#555';
const MARK = '#2671b0';
const TXT = '#3a3a3a';

const ring = (r: number, color: string, w: number) => (p: any) => (
  <circle cx={p.cx} cy={p.cy} r={r} fill="none" stroke={color} strokeWidth={w} />
);
const noMark = () => <g />;

// 10^n tick label
function PowTick(props: any) {
  const { x, y, payload, textAnchor, vertical } = props;
  return (
    <text x={x} y={y} textAnchor={textAnchor} dy={vertical ? '0.35em' : '0.8em'} fontSize={14} fill={TICK_TXT} fontFamily={FONT}>
      10<tspan dy={-7} fontSize={10}>{payload.value}</tspan>
    </text>
  );
}

// top and right axes close the box, ticks pointing inward, no labels
function boxAxes(xDomain: number[], yDomain: number[], xTicks: number[], yTicks: number[]) {
  return [
    <XAxis key="xt" xAxisId="top" orientation="top" type="number" dataKey="x" domain={xDomain} ticks={xTicks} height={1} tick={false} stroke={AXIS} tickSize={-5} allowDataOverflow />,
    <YAxis key="yr" yAxisId="right" orientation="right" type="number" dataKey="y" domain={yDomain} ticks={yTicks} width={1} tick={false} stroke={AXIS} tickSize={-5} allowDataOverflow />,
    <ReferenceArea key="frame" x1={xDomain[0]} x2={xDomain[1]} y1={yDomain[0]} y2={yDomain[1]} fill="none" stroke={AXIS} strokeWidth={1} />,
  ];
}

function PanelA() {
  const pts = aObserved.map((x, i) => ({ x, y: aPredicted[i] }));
  const xStart = (0 - fitIntercept) / fitSlope;
  const xEnd = (1 - fitIntercept) / fitSlope;
  const tickStyle = { fontSize: 16, fill: TICK_TXT, fontFamily: FONT };
  return (
    <ScatterChart width={600} height={460} margin={{ top: 13, right: 14, bottom: 0, left: 0 }}>
      <XAxis type="number" dataKey="x" domain={[0, 3]} ticks={aXTicks} height={65} stroke={AXIS} tickSize={-6} tickMargin={16} tick={tickStyle} allowDataOverflow />
      <YAxis type="number" dataKey="y" domain={[0, 1]} ticks={aYTicks} width={92} stroke={AXIS} tickSize={-6} tickMargin={17} tick={tickStyle} allowDataOverflow />
      {boxAxes([0, 3], [0, 1], aXTicks, aYTicks)}
      <ReferenceLine segment={[{ x: xStart, y: 0 }, { x: xEnd, y: 1 }]} stroke="#d9503f" strokeWidth={1.2} />
      <Scatter data={pts} shape={ring(5.5, '#3f84b6', 1.2)} isAnimationActive={false} />
      <Scatter data={pts} xAxisId="top" yAxisId="right" shape={noMark} isAnimationActive={false} />
    </ScatterChart>
  );
}

function PanelB() {
  const tickStyle = { fontSize: 13, fill: TICK_TXT, fontFamily: FONT };
  const edgePts = binEdges.map((x) => ({ x, y: 0 }));
  return (
    <ComposedChart width={598} height={460} margin={{ top: 28, right: 7, bottom: 0, left: 0 }}>
      <XAxis type="number" dataKey="x" domain={[-2, 5]} ticks={bXTicks} height={74} stroke={AXIS} tickSize={-5} tickMargin={14} tick={tickStyle} allowDataOverflow />
      <YAxis type="number" dataKey="y" domain={[0, 350]} ticks={bYTicks} width={100} stroke={AXIS} tickSize={-5} tickMargin={15} tick={tickStyle} allowDataOverflow />
      {boxAxes([-2, 5], [0, 350], bXTicks, bYTicks)}
      {binCounts.map((c, i) => (
        <ReferenceArea key={i} x1={binEdges[i]} x2={binEdges[i + 1]} y1={0} y2={c} fill="#5ba3d6" fillOpacity={1} stroke="#1e2a36" strokeWidth={1} ifOverflow="visible" />
      ))}
      <Scatter data={edgePts} shape={noMark} isAnimationActive={false} />
      <Scatter data={edgePts} xAxisId="top" yAxisId="right" shape={noMark} isAnimationActive={false} />
    </ComposedChart>
  );
}

function PanelC({ points, yTicks, yDomain, margin }: { points: [number, number][]; yTicks: number[]; yDomain: number[]; margin: any }) {
  const pts = points.map(([x, y]) => ({ x, y }));
  return (
    <ScatterChart width={margin.w} height={357} margin={{ top: margin.top - 1, right: margin.right - 1, bottom: 0, left: 0 }}>
      <XAxis type="number" dataKey="x" domain={[-3, 3]} ticks={cXTicks} height={margin.bottom} stroke={AXIS} tickSize={-5} tickMargin={14} tick={<PowTick />} allowDataOverflow />
      <YAxis type="number" dataKey="y" domain={yDomain} ticks={yTicks} width={margin.left} stroke={AXIS} tickSize={-5} tickMargin={20} tick={<PowTick vertical />} allowDataOverflow />
      {boxAxes([-3, 3], yDomain, cXTicks, yTicks)}
      <Scatter data={pts} shape={ring(3.9, MARK, 1.4)} isAnimationActive={false} />
      <Scatter data={pts} xAxisId="top" yAxisId="right" shape={noMark} isAnimationActive={false} />
    </ScatterChart>
  );
}

const cLayout = [
  { left: 0, w: 400, top: 30, right: 12, bottom: 52, plotLeft: 90, cx: 241, ylx: 40, yly: 685 },
  { left: 400, w: 400, top: 32, right: 17, bottom: 51, plotLeft: 83, cx: 635, ylx: 429, yly: 681 },
  { left: 800, w: 398, top: 30, right: 21, bottom: 52, plotLeft: 77, cx: 1029, ylx: 829, yly: 681 },
];

export default function App() {
  const cData = [c1Points.concat(c1Core), c2Points.concat(c2Core), c3Points.concat(c3Core)];
  const cY = [c1YTicks, c23YTicks, c23YTicks];
  const cDom = [[-3, 3], [-3, 4], [-3, 4]];
  const label = `y = ${fitSlope}x ${fitIntercept}`;
  return (
    <div style={{ position: 'relative', width: 1198, height: 877, background: '#fff', fontFamily: FONT }}>
      <style>{'body{margin:0}'}</style>
      <div style={{ position: 'absolute', left: 0, top: 0 }}><PanelA /></div>
      <div style={{ position: 'absolute', left: 600, top: 0 }}><PanelB /></div>
      {cLayout.map((l, i) => (
        <div key={i} style={{ position: 'absolute', left: l.left, top: 520 }}>
          <PanelC points={cData[i]} yTicks={cY[i]} yDomain={cDom[i]} margin={{ w: l.w, top: l.top, right: l.right, bottom: l.bottom, left: l.plotLeft }} />
        </div>
      ))}
      <svg width={1198} height={877} style={{ position: 'absolute', left: 0, top: 0, pointerEvents: 'none' }} fontFamily={FONT}>
        <text x={21} y={54} fontSize={31} fill="#111">A</text>
        <text x={636} y={53} fontSize={31} fill="#111">B</text>
        <text x={22} y={536} fontSize={31} fill="#111">C</text>

        <text x={419} y={333} fontSize={18} fill="#222">{label}</text>

        <text transform="translate(39,206) rotate(-90)" textAnchor="middle" fontSize={27} fill={TXT}>
          log<tspan dy={8} fontSize={18}>10</tspan><tspan dy={-8}>W</tspan><tspan dy={8} fontSize={18}>predicted</tspan><tspan dy={-8}> (48 hr)</tspan>
        </text>
        <text x={338} y={450} textAnchor="middle" fontSize={28} fill={TXT}>
          log<tspan dy={8} fontSize={19}>10</tspan><tspan dy={-8}>W</tspan><tspan dy={8} fontSize={19}>observed</tspan><tspan dy={-8}>  (144 hr)</tspan>
        </text>

        <text transform="translate(661,197) rotate(-90)" textAnchor="middle" fontSize={27} fill={TXT}>Count</text>
        <text x={941} y={438} textAnchor="middle" fontSize={27} fill={TXT}>
          log<tspan dy={8} fontSize={17}>10</tspan><tspan dy={-8}>(fold change in IC</tspan><tspan dy={5} fontSize={17}>50</tspan><tspan dy={-5}>)</tspan>
        </text>

        {cLayout.map((l, i) => (
          <g key={i}>
            <text x={l.cx} y={542} textAnchor="middle" fontSize={15} fill="#222">{cTitles[i]}</text>
            <text x={l.cx} y={869} textAnchor="middle" fontSize={15.5} fill={TXT}>{cXLabels[i]}</text>
            <text transform={`translate(${l.ylx},${l.yly}) rotate(-90)`} textAnchor="middle" fontSize={15.5} fill={TXT}>{cYLabels[i]}</text>
          </g>
        ))}
      </svg>
    </div>
  );
}
